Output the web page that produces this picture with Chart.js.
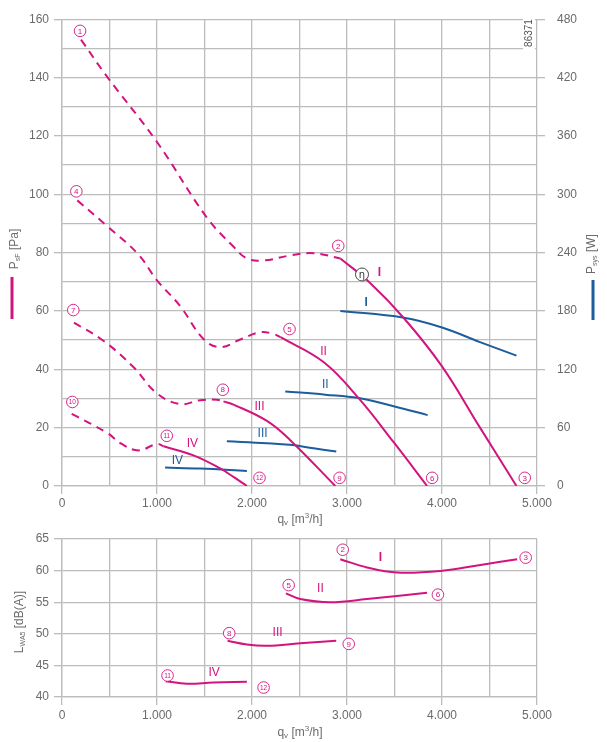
<!DOCTYPE html>
<html lang="de">
<head>
<meta charset="UTF-8">
<title>Kennlinie</title>
<script src="https://cdn.jsdelivr.net/npm/chart.js"></script>
<style>
  body { margin: 0; background: #fff; }
  #wrap { position: relative; width: 607px; height: 742px; }
  #topChart { position: absolute; left: 0; top: 0; }
  #soundChart { position: absolute; left: 0; top: 525px; }
</style>
</head>
<body>
<div id="wrap">
  <canvas id="topChart" width="607" height="540"></canvas>
  <canvas id="soundChart" width="607" height="217"></canvas>
</div>
<script>
// --- pressure curves (Pa), dashed part = unstable range
const qDashI = [200, 470, 998, 1525, 1806, 1946, 2120, 2400, 2645, 2930];
const pDashI = [153, 140.5, 118, 92, 82, 78, 77.3, 79, 79.8, 78];
const qCurveI = [2930, 3230, 3600, 4000, 4400, 4784];
const pCurveI = [78, 70, 57.5, 41, 20, 0];

const qDashII = [161, 471, 800, 1000, 1243, 1489, 1665, 1876, 2086, 2227, 2300];
const pDashII = [97.9, 89.2, 79.5, 70.5, 61.7, 50.4, 47.6, 50.2, 52.7, 52.1, 51];
const qCurveII = [2300, 2753, 3122, 3491, 3843];
const pCurveII = [51, 42.5, 30.1, 15, 0];

const qDashIII = [126, 435, 751, 998, 1243, 1454, 1630, 1700];
const pDashIII = [56, 49.8, 40.8, 31.8, 28.1, 29.4, 29.6, 29];
const qCurveIII = [1700, 1805, 2157, 2400, 2877];
const pCurveIII = [29, 27.9, 22.3, 15.8, 0];

const qDashIV = [102, 471, 629, 804, 1000, 1070];
const pDashIV = [24.7, 18.3, 14.4, 12.2, 14.4, 13.6];
const qCurveIV = [1070, 1384, 1665, 1805, 1946];
const pCurveIV = [13.6, 10.5, 6, 3.1, 0];

// --- power input (W)
const qPowerI = [2930, 3600, 4000, 4400, 4784];
const wPowerI = [180, 173, 163, 148, 134];
const qPowerII = [2350, 2771, 3122, 3491, 3849];
const wPowerII = [97.2, 93.9, 90.4, 82, 72.9];
const qPowerIII = [1735, 2157, 2400, 2648, 2887];
const wPowerIII = [46, 44, 42.3, 38.8, 35.4];
const qPowerIV = [1085, 1454, 1946];
const wPowerIV = [18.9, 17.9, 15.5];

// --- sound power level dB(A)
const qSoundI = [2929, 3210, 3527, 3985, 4405, 4791];
const lSoundI = [61.8, 60.5, 59.7, 59.95, 60.9, 61.8];
const qSoundII = [2357, 2508, 2824, 3210, 3843];
const lSoundII = [56.4, 55.5, 55.0, 55.5, 56.5];
const qSoundIII = [1743, 1946, 2157, 2508, 2887];
const lSoundIII = [48.9, 48.3, 48.1, 48.5, 48.9];
const qSoundIV = [1093, 1314, 1595, 1946];
const lSoundIV = [42.5, 42.1, 42.3, 42.4];

// --- labels
const pointNames = ['1', '2', '3', '4', '5', '6', '7', '8', '9', '10', '11', '12'];
const pointQ = [190, 2908, 4871, 151, 2395, 3896, 119, 1693, 2922, 109, 1103, 2079];
const pointP = [156, 82.3, 2.8, 101, 53.8, 2.8, 60.3, 33, 2.8, 28.8, 17.2, 2.8];
const soundPointNames = ['2', '3', '5', '6', '8', '9', '11', '12'];
const soundPointQ = [2955, 4881, 2386, 3957, 1760, 3018, 1111, 2122];
const soundPointL = [63.3, 62.05, 57.7, 56.2, 50.1, 48.4, 43.4, 41.5];
const stepNames = ['I', 'II', 'III', 'IV'];
const stepQ = [3340, 2753, 2079, 1373];
const stepP = [73.1, 46.2, 27.1, 14.4];
const stepPowerQ = [3203, 2771, 2111, 1215];
const stepPowerW = [189, 104, 53.4, 26.3];
const stepSoundQ = [3352, 2720, 2269, 1601];
const stepSoundL = [62.1, 57.1, 50.1, 43.8];
const etaQ = 3158, etaP = 72.5;

const MAG = '#d3147f';
const BLUE = '#1c5d9e';
const GRID = '#bcbcbc';
const TXT = '#6b6b6b';
const FONT = '"Liberation Sans", Arial, sans-serif';

Chart.defaults.font.family = FONT;
Chart.defaults.font.size = 12;
Chart.defaults.color = TXT;

const pts = (qs, vs) => qs.map((q, i) => ({ x: q, y: vs[i] }));
const fmt = v => v === 0 ? '0' : (v / 1000).toFixed(3);

function line(qs, vs, color, dashed, axis) {
  return {
    data: pts(qs, vs), borderColor: color, borderWidth: 2,
    borderDash: dashed ? [8, 6] : [], pointRadius: 0, showLine: true,
    tension: 0.4, yAxisID: axis || 'y', fill: false
  };
}

function circled(ctx, x, y, txt, color) {
  ctx.save();
  ctx.beginPath();
  ctx.arc(x, y, 5.8, 0, 2 * Math.PI);
  ctx.fillStyle = '#fff';
  ctx.fill();
  ctx.lineWidth = 0.9;
  ctx.strokeStyle = color;
  ctx.stroke();
  ctx.fillStyle = color;
  ctx.font = (txt.length > 1 ? '6.5px ' : '8px ') + FONT;
  ctx.textAlign = 'center';
  ctx.textBaseline = 'middle';
  ctx.fillText(txt, x, y + 0.5);
  ctx.restore();
}

// text with sub/superscripts, centred at x,y, optionally rotated
function richText(ctx, x, y, parts, rot, color) {
  ctx.save();
  ctx.translate(x, y);
  if (rot) ctx.rotate(-Math.PI / 2);
  ctx.fillStyle = color || TXT;
  ctx.textBaseline = 'middle';
  ctx.textAlign = 'left';
  let w = 0;
  parts.forEach(p => { ctx.font = p[1] + 'px ' + FONT; w += ctx.measureText(p[0]).width; });
  let cx = -w / 2;
  parts.forEach(p => {
    ctx.font = p[1] + 'px ' + FONT;
    ctx.fillText(p[0], cx, p[2]);
    cx += ctx.measureText(p[0]).width;
  });
  ctx.restore();
}

function label(ctx, x, y, txt, color) {
  ctx.save();
  ctx.fillStyle = color;
  ctx.font = (txt === 'I' ? 'bold 12px ' : '12px ') + FONT;
  ctx.textAlign = 'center';
  ctx.textBaseline = 'middle';
  ctx.fillText(txt, x, y);
  ctx.restore();
}

const qTitle = [['q', 12, 0], ['v', 8, 3], [' [m', 12, 0], ['3', 8, -4], ['/h]', 12, 0]];

const topMarks = {
  id: 'topMarks',
  afterDatasetsDraw(chart) {
    const ctx = chart.ctx;
    const sx = chart.scales.x, sy = chart.scales.y, sw = chart.scales.y1;
    pointNames.forEach((n, i) => circled(ctx, sx.getPixelForValue(pointQ[i]), sy.getPixelForValue(pointP[i]), n, MAG));
    stepNames.forEach((n, i) => {
      label(ctx, sx.getPixelForValue(stepQ[i]), sy.getPixelForValue(stepP[i]), n, MAG);
      label(ctx, sx.getPixelForValue(stepPowerQ[i]), sw.getPixelForValue(stepPowerW[i]), n, BLUE);
    });
    // efficiency marker
    const ex = sx.getPixelForValue(etaQ), ey = sy.getPixelForValue(etaP);
    ctx.save();
    ctx.beginPath();
    ctx.arc(ex, ey, 6.5, 0, 2 * Math.PI);
    ctx.fillStyle = '#fff';
    ctx.fill();
    ctx.lineWidth = 1;
    ctx.strokeStyle = '#444';
    ctx.stroke();
    ctx.fillStyle = '#333';
    ctx.font = '10px "DejaVu Sans", sans-serif';
    ctx.textAlign = 'center';
    ctx.textBaseline = 'middle';
    ctx.fillText('η', ex, ey + 1);
    ctx.restore();
  },
  afterDraw(chart) {
    const ctx = chart.ctx;
    // drawing number
    ctx.save();
    ctx.fillStyle = '#fff';
    ctx.fillRect(523, 16, 12, 34);
    ctx.restore();
    richText(ctx, 529, 33, [['86371', 10, 0]], true, '#555');
    richText(ctx, 300, 520, qTitle, false);
    richText(ctx, 15, 249, [['P', 12, 0], ['sF', 7, 3], [' [Pa]', 12, 0]], true);
    richText(ctx, 592, 254, [['P', 12, 0], ['sys', 7, 3], [' [W]', 12, 0]], true);
    ctx.save();
    ctx.lineWidth = 3;
    ctx.strokeStyle = MAG;
    ctx.beginPath(); ctx.moveTo(12, 277); ctx.lineTo(12, 319); ctx.stroke();
    ctx.strokeStyle = BLUE;
    ctx.beginPath(); ctx.moveTo(593, 280); ctx.lineTo(593, 320); ctx.stroke();
    ctx.restore();
  }
};

const tickCol = step => c => (c.tick && c.tick.value % step === 0) ? GRID : 'rgba(0,0,0,0)';

new Chart(document.getElementById('topChart'), {
  type: 'scatter',
  data: {
    datasets: [
      line(qDashI, pDashI, MAG, true), line(qCurveI, pCurveI, MAG, false),
      line(qDashII, pDashII, MAG, true), line(qCurveII, pCurveII, MAG, false),
      line(qDashIII, pDashIII, MAG, true), line(qCurveIII, pCurveIII, MAG, false),
      line(qDashIV, pDashIV, MAG, true), line(qCurveIV, pCurveIV, MAG, false),
      line(qPowerI, wPowerI, BLUE, false, 'y1'), line(qPowerII, wPowerII, BLUE, false, 'y1'),
      line(qPowerIII, wPowerIII, BLUE, false, 'y1'), line(qPowerIV, wPowerIV, BLUE, false, 'y1')
    ]
  },
  options: {
    responsive: false,
    animation: false,
    layout: { padding: { top: 12, left: 0, right: 0, bottom: 0 } },
    plugins: { legend: { display: false }, tooltip: { enabled: false } },
    scales: {
      x: {
        type: 'linear', min: 0, max: 5000,
        grid: { color: GRID, lineWidth: 1.3, tickLength: 8, tickColor: tickCol(1000) },
        border: { color: GRID, width: 1.3 },
        ticks: { stepSize: 500, autoSkip: false, maxRotation: 0, padding: 2,
          callback: v => v % 1000 === 0 ? fmt(v) : '' },
        afterFit: s => { s.height = 54; }
      },
      y: {
        type: 'linear', position: 'left', min: 0, max: 160,
        grid: { color: GRID, lineWidth: 1.3, tickLength: 8, tickColor: tickCol(20) },
        border: { color: GRID, width: 1.3 },
        ticks: { stepSize: 10, autoSkip: false, padding: 5, callback: v => v % 20 === 0 ? v : '' },
        afterFit: s => { s.width = 62; }
      },
      y1: {
        type: 'linear', position: 'right', min: 0, max: 480,
        grid: { drawOnChartArea: false, color: GRID, lineWidth: 1.3, tickLength: 8 },
        border: { display: false },
        ticks: { stepSize: 60, autoSkip: false, padding: 12 },
        afterFit: s => { s.width = 70; }
      }
    }
  },
  plugins: [topMarks]
});

const soundMarks = {
  id: 'soundMarks',
  afterDatasetsDraw(chart) {
    const ctx = chart.ctx;
    const sx = chart.scales.x, sy = chart.scales.y;
    soundPointNames.forEach((n, i) => circled(ctx, sx.getPixelForValue(soundPointQ[i]), sy.getPixelForValue(soundPointL[i]), n, MAG));
    stepNames.forEach((n, i) => label(ctx, sx.getPixelForValue(stepSoundQ[i]), sy.getPixelForValue(stepSoundL[i]), n, MAG));
  },
  afterDraw(chart) {
    const ctx = chart.ctx;
    richText(ctx, 300, 208, qTitle, false);
    richText(ctx, 20, 97, [['L', 12, 0], ['WA5', 7, 3], [' [dB(A)]', 12, 0]], true);
  }
};

new Chart(document.getElementById('soundChart'), {
  type: 'scatter',
  data: {
    datasets: [
      line(qSoundI, lSoundI, MAG, false), line(qSoundII, lSoundII, MAG, false),
      line(qSoundIII, lSoundIII, MAG, false), line(qSoundIV, lSoundIV, MAG, false)
    ]
  },
  options: {
    responsive: false,
    animation: false,
    layout: { padding: { top: 14, left: 0, right: 70, bottom: 0 } },
    plugins: { legend: { display: false }, tooltip: { enabled: false } },
    scales: {
      x: {
        type: 'linear', min: 0, max: 5000,
        grid: { color: GRID, lineWidth: 1.3, tickLength: 8, tickColor: tickCol(1000) },
        border: { color: GRID, width: 1.3 },
        ticks: { stepSize: 500, autoSkip: false, maxRotation: 0, padding: 3,
          callback: v => v % 1000 === 0 ? fmt(v) : '' },
        afterFit: s => { s.height = 45; }
      },
      y: {
        type: 'linear', position: 'left', min: 40, max: 65,
        grid: { color: GRID, lineWidth: 1.3, tickLength: 8 },
        border: { color: GRID, width: 1.3 },
        ticks: { stepSize: 5, autoSkip: false, padding: 5 },
        afterFit: s => { s.width = 62; }
      }
    }
  },
  plugins: [soundMarks]
});
</script>
</body>
</html>
